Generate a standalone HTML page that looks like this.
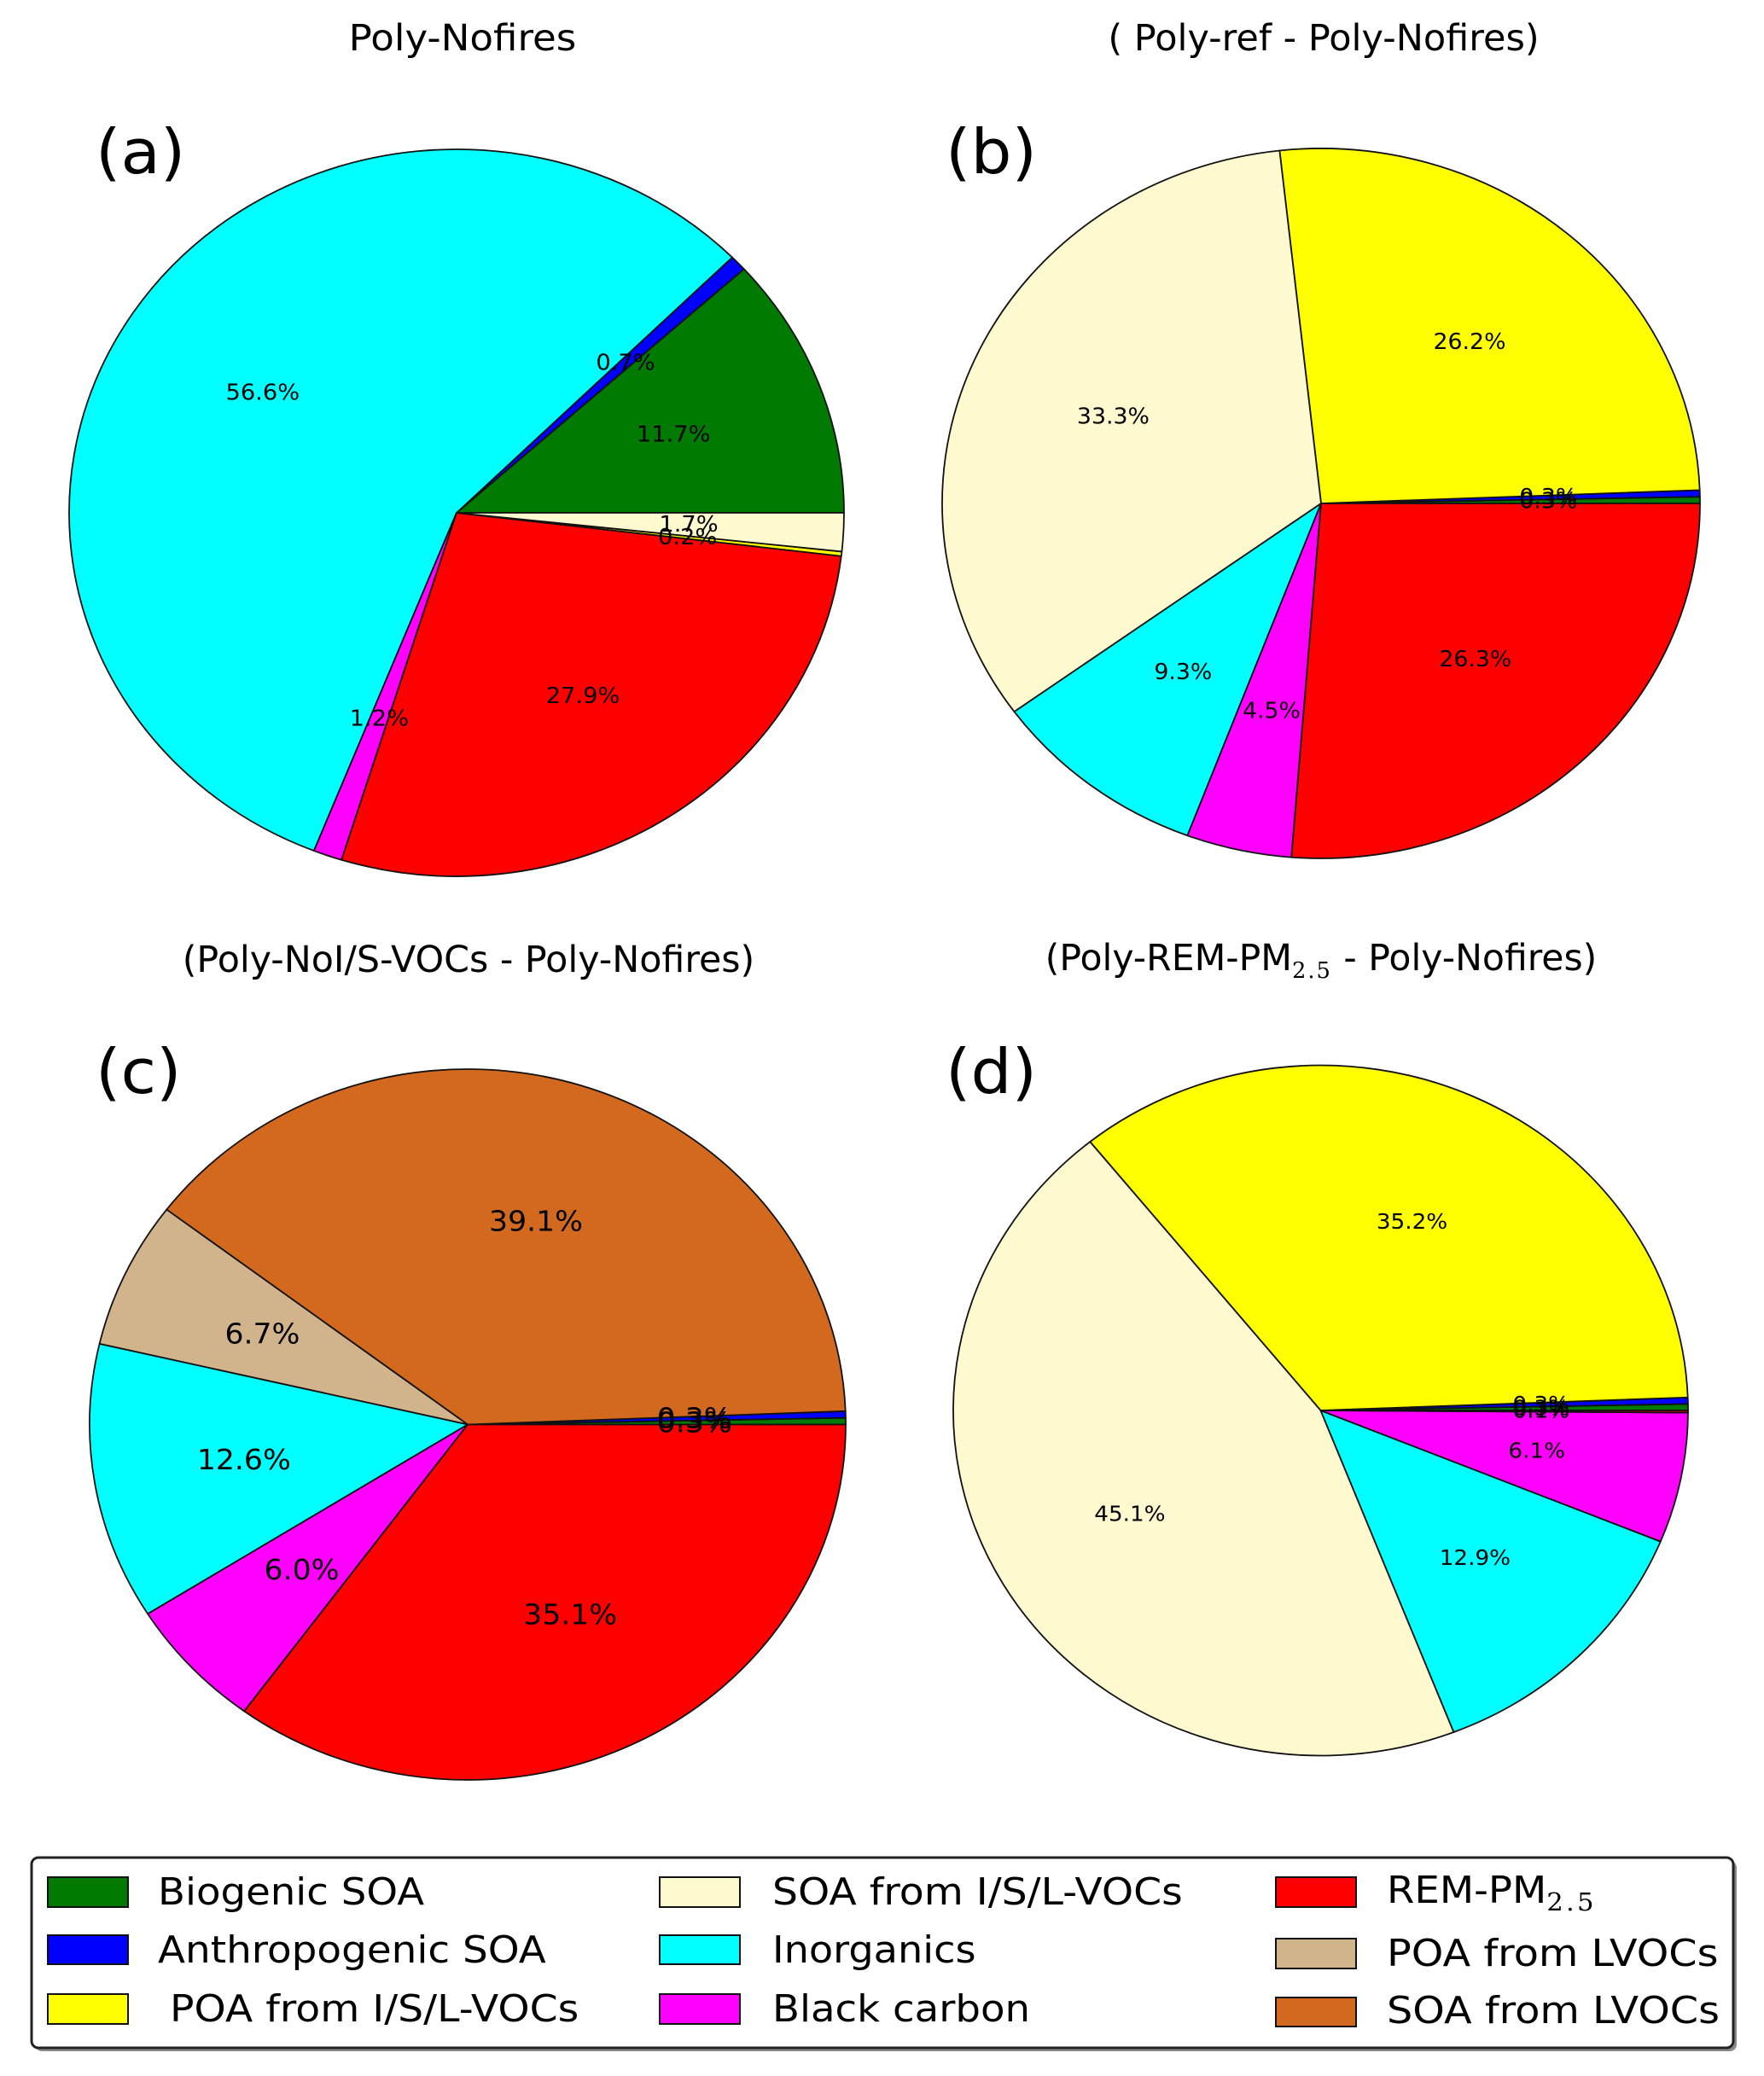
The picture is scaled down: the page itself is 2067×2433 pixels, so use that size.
<!DOCTYPE html>
<html lang="en">
<head>
<meta charset="utf-8">
<title>Poly-Nofires aerosol composition pies</title>
<style>
html,body{margin:0;padding:0;background:#fff;}
svg{display:block;}
text{font-family:"DejaVu Sans","Liberation Sans",sans-serif;fill:#000;}
.sub{font-family:"DejaVu Serif","Liberation Serif",serif;}
</style>
</head>
<body>
<svg id="chart" xmlns="http://www.w3.org/2000/svg" width="2067" height="2433" viewBox="0 0 2067 2433">
  <rect x="0" y="0" width="2067" height="2433" fill="#fff"/>
  <g id="pies"></g>

  <g>
    <text text-anchor="middle" font-size="43" transform="translate(542,59) scale(1.05,1)">Poly-Nofires</text>
    <text text-anchor="middle" font-size="43" transform="translate(1551,59)">( Poly-ref - Poly-Nofires)</text>
    <text text-anchor="middle" font-size="43" transform="translate(549,1139) scale(0.995,1)">(Poly-NoI/S-VOCs - Poly-Nofires)</text>
    <text text-anchor="middle" font-size="43" transform="translate(1548,1137) scale(0.99,1)">(Poly-REM-PM<tspan class="sub" dy="9" font-size="26" letter-spacing="2">2.5</tspan><tspan dy="-9"> - Poly-Nofires)</tspan></text>
  </g>

  <g>
    <text font-size="72" transform="translate(112,203) scale(1.05,1)">(a)</text>
    <text font-size="72" transform="translate(1108,203) scale(1.05,1)">(b)</text>
    <text font-size="72" transform="translate(112,1281) scale(1.05,1)">(c)</text>
    <text font-size="72" transform="translate(1108,1281) scale(1.05,1)">(d)</text>
  </g>

  <g>
    <rect x="41" y="2181" width="1994" height="223" rx="8" fill="#8a8a8a"/>
    <rect x="37" y="2177" width="1994" height="223" rx="8" fill="#fff" stroke="#222" stroke-width="3"/>

    <rect x="56" y="2200" width="94" height="35" fill="#007a00" stroke="#111" stroke-width="2"/>
    <text font-size="44" transform="translate(185,2232) scale(1.06,1)">Biogenic SOA</text>
    <rect x="56" y="2268" width="94" height="34" fill="#0000ff" stroke="#111" stroke-width="2"/>
    <text font-size="44" transform="translate(185,2300) scale(1.065,1)">Anthropogenic SOA</text>
    <rect x="56" y="2337" width="94" height="35" fill="#ffff00" stroke="#111" stroke-width="2"/>
    <text font-size="44" transform="translate(199,2369) scale(1.075,1)">POA from I/S/L-VOCs</text>

    <rect x="773" y="2200" width="94" height="35" fill="#fff9d0" stroke="#111" stroke-width="2"/>
    <text font-size="44" transform="translate(905,2232) scale(1.075,1)">SOA from I/S/L-VOCs</text>
    <rect x="773" y="2268" width="94" height="34" fill="#00ffff" stroke="#111" stroke-width="2"/>
    <text font-size="44" transform="translate(905,2300) scale(1.05,1)">Inorganics</text>
    <rect x="773" y="2337" width="94" height="35" fill="#ff00ff" stroke="#111" stroke-width="2"/>
    <text font-size="44" transform="translate(905,2369) scale(1.06,1)">Black carbon</text>

    <rect x="1495" y="2200" width="94" height="35" fill="#ff0000" stroke="#111" stroke-width="2"/>
    <text font-size="44" transform="translate(1625,2230) scale(1.06,1)">REM-PM<tspan class="sub" dy="9" font-size="29" letter-spacing="3">2.5</tspan></text>
    <rect x="1495" y="2272" width="94" height="35" fill="#d2b48c" stroke="#111" stroke-width="2"/>
    <text font-size="44" transform="translate(1625,2304) scale(1.085,1)">POA from LVOCs</text>
    <rect x="1495" y="2341" width="94" height="34" fill="#d2691e" stroke="#111" stroke-width="2"/>
    <text font-size="44" transform="translate(1625,2371) scale(1.085,1)">SOA from LVOCs</text>
  </g>
</svg>

<script>
// Wedge categories and percentages, counter-clockwise from 3 o'clock
const categoriesA = ['Biogenic SOA', 'Anthropogenic SOA', 'Inorganics', 'Black carbon', 'REM-PM2.5', 'POA from I/S/L-VOCs', 'SOA from I/S/L-VOCs'];
const valuesA = [11.7, 0.7, 56.6, 1.2, 27.9, 0.2, 1.7];

const categoriesB = ['Biogenic SOA', 'Anthropogenic SOA', 'POA from I/S/L-VOCs', 'SOA from I/S/L-VOCs', 'Inorganics', 'Black carbon', 'REM-PM2.5'];
const valuesB = [0.3, 0.3, 26.2, 33.3, 9.3, 4.5, 26.3];

const categoriesC = ['Biogenic SOA', 'Anthropogenic SOA', 'SOA from LVOCs', 'POA from LVOCs', 'Inorganics', 'Black carbon', 'REM-PM2.5'];
const valuesC = [0.3, 0.3, 39.1, 6.7, 12.6, 6.0, 35.1];

const categoriesD = ['Biogenic SOA', 'Anthropogenic SOA', 'POA from I/S/L-VOCs', 'SOA from I/S/L-VOCs', 'Inorganics', 'Black carbon', 'REM-PM2.5'];
const valuesD = [0.3, 0.3, 35.2, 45.1, 12.9, 6.1, 0.1];

const colours = {
  'Biogenic SOA': '#007a00',
  'Anthropogenic SOA': '#0000ff',
  'POA from I/S/L-VOCs': '#ffff00',
  'SOA from I/S/L-VOCs': '#fff9d0',
  'Inorganics': '#00ffff',
  'Black carbon': '#ff00ff',
  'REM-PM2.5': '#ff0000',
  'POA from LVOCs': '#d2b48c',
  'SOA from LVOCs': '#d2691e'
};

const SVGNS = 'http://www.w3.org/2000/svg';
const root = document.getElementById('pies');

function slug(s) {
  return s.toLowerCase().replace(/[^a-z0-9]+/g, '-');
}

function angleScale(values) {
  const total = values.reduce(function (a, b) { return a + b; }, 0);
  return function (v) { return v / total * Math.PI * 2; };
}

function drawPie(key, categories, values, cx, cy, rx, ry, fontSize) {
  const group = document.createElementNS(SVGNS, 'g');
  
  
  root.appendChild(group);

  const toAngle = angleScale(values);
  const xAt = function (a, f) { return cx + rx * f * Math.cos(a); };
  const yAt = function (a, f) { return cy - ry * f * Math.sin(a); };

  let start = 0;
  const labels = [];
  values.forEach(function (v, i) {
    const sweep = toAngle(v);
    const end = start + sweep;
    const large = sweep > Math.PI ? 1 : 0;
    const d = 'M' + cx + ' ' + cy +
      'L' + xAt(start, 1).toFixed(2) + ' ' + yAt(start, 1).toFixed(2) +
      'A' + rx + ' ' + ry + ' 0 ' + large + ' 0 ' + xAt(end, 1).toFixed(2) + ' ' + yAt(end, 1).toFixed(2) + 'Z';
    const wedge = document.createElementNS(SVGNS, 'path');
    wedge.setAttribute('d', d);
    wedge.setAttribute('fill', colours[categories[i]]);
    wedge.setAttribute('stroke', '#111');
    wedge.setAttribute('stroke-width', '1.8');
    wedge.setAttribute('stroke-linejoin', 'round');
    
    
    group.appendChild(wedge);
    labels.push({ mid: start + sweep / 2, value: v, cat: categories[i] });
    start = end;
  });

  labels.forEach(function (l) {
    const t = document.createElementNS(SVGNS, 'text');
    t.setAttribute('text-anchor', 'middle');
    t.setAttribute('dominant-baseline', 'central');
    t.setAttribute('font-size', fontSize);
    t.setAttribute('transform', 'translate(' + xAt(l.mid, 0.6).toFixed(2) + ',' + yAt(l.mid, 0.6).toFixed(2) + ') scale(1.05,1)');
    t.textContent = l.value.toFixed(1) + '%';
    
    
    group.appendChild(t);
  });
}

drawPie('a', categoriesA, valuesA, 535, 601, 454, 426, 26);
drawPie('b', categoriesB, valuesB, 1548, 590, 444, 416, 25.5);
drawPie('c', categoriesC, valuesC, 548, 1669.5, 443, 416.5, 33);
drawPie('d', categoriesD, valuesD, 1547.5, 1653, 430.5, 404.5, 25);
</script>
</body>
</html>
